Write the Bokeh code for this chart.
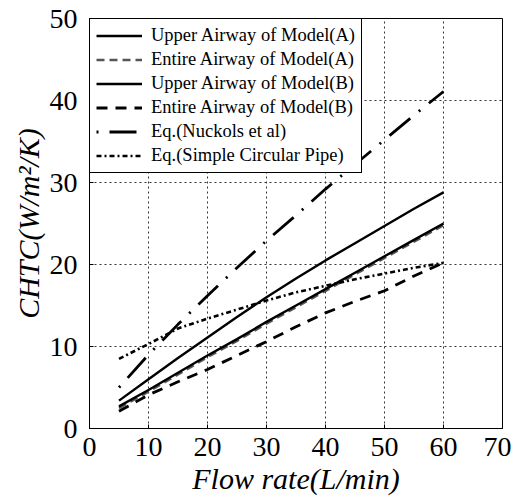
from bokeh.plotting import figure
from bokeh.models import Legend, LegendItem, Range1d, FixedTicker
from bokeh.embed import file_html
from bokeh.resources import INLINE

# Data
flow = [5, 10, 15, 20, 25, 30, 35, 40, 45, 50, 55, 60]
upper_a = [3.4, 6.0, 8.6, 11.1, 13.6, 16.0, 18.3, 20.5, 22.6, 24.7, 26.8, 28.8]
entire_a = [2.5, 4.5, 6.6, 8.7, 10.7, 12.8, 14.8, 16.8, 18.8, 20.8, 22.8, 24.8]
upper_b = [2.7, 4.7, 6.8, 8.9, 10.9, 13.0, 15.0, 17.0, 19.0, 21.0, 23.0, 25.0]
entire_b = [2.1, 4.1, 5.7, 7.2, 8.9, 10.6, 12.4, 14.1, 15.5, 16.8, 18.6, 20.2]
nuckols = [5.0, 9.0, 12.7, 16.2, 19.6, 22.9, 26.0, 29.2, 32.2, 35.2, 38.2, 41.1]
pipe = [8.5, 10.3, 12.2, 13.4, 14.5, 15.6, 16.6, 17.4, 18.2, 18.9, 19.6, 20.2]

labels = ["Upper Airway of Model(A)", "Entire Airway of Model(A)",
          "Upper Airway of Model(B)", "Entire Airway of Model(B)",
          "Eq.(Nuckols et al)", "Eq.(Simple Circular Pipe)"]
x_ticks = [0, 10, 20, 30, 40, 50, 60, 70]
y_ticks = [0, 10, 20, 30, 40, 50]

FONT = "Liberation Serif"

p = figure(frame_width=413, frame_height=410,
           x_range=Range1d(0, 70), y_range=Range1d(0, 50),
           output_backend="svg", toolbar_location=None,
           min_border_left=89, min_border_top=18,
           min_border_right=9, min_border_bottom=57)

p.outline_line_color = "black"
p.outline_line_width = 1
p.outline_line_alpha = 1
p.background_fill_color = "white"
p.border_fill_color = "white"

for ax in (p.xaxis[0], p.yaxis[0]):
    ax.axis_line_color = "black"
    ax.major_tick_line_color = "black"
    ax.major_tick_in = 4
    ax.major_tick_out = 0
    ax.minor_tick_line_color = None
    ax.major_label_text_font = FONT
    ax.major_label_text_font_size = "28px"
    ax.major_label_text_color = "black"
    ax.axis_label_text_font = FONT
    ax.axis_label_text_font_style = "italic"
    ax.axis_label_text_font_size = "30px"
    ax.axis_label_text_color = "black"

p.xaxis.ticker = FixedTicker(ticks=x_ticks)
p.yaxis.ticker = FixedTicker(ticks=y_ticks)
p.xaxis.axis_label = "Flow rate(L/min)"
p.yaxis.axis_label = "CHTC(W/m²/K)"
p.xaxis.major_label_standoff = 9
p.yaxis.major_label_standoff = 12
p.xaxis.axis_label_standoff = 3
p.yaxis.axis_label_standoff = 2

for g in (p.xgrid[0], p.ygrid[0]):
    g.grid_line_color = "#333333"
    g.grid_line_dash = "2 3"
    g.grid_line_width = 1

r_ea = p.line(flow, entire_a, line_color="#555555", line_width=2.6, line_dash="8 5")
r_ua = p.line(flow, upper_a, line_color="black", line_width=2.4)
r_ub = p.line(flow, upper_b, line_color="black", line_width=2.4)
r_eb = p.line(flow, entire_b, line_color="black", line_width=2.8, line_dash="11 8")
r_nk = p.line(flow, nuckols, line_color="black", line_width=2.8, line_dash="2 11 27 11")
r_pp = p.line(flow, pipe, line_color="black", line_width=2.6, line_dash="5 3 2 3")

items = [LegendItem(label=l, renderers=[r]) for l, r in
         zip(labels, [r_ua, r_ea, r_ub, r_eb, r_nk, r_pp])]
legend = Legend(items=items, location="top_left")
legend.margin = 0
legend.padding = 6
legend.spacing = 3
legend.label_height = 21
legend.glyph_height = 21
legend.glyph_width = 46
legend.label_standoff = 9
legend.border_line_color = "black"
legend.border_line_width = 1.5
legend.border_line_alpha = 1
legend.background_fill_alpha = 1
legend.label_text_font = FONT
legend.label_text_font_size = "18.5px"
legend.label_text_color = "black"
p.add_layout(legend)

open("out.html", "w").write(file_html(p, INLINE))
